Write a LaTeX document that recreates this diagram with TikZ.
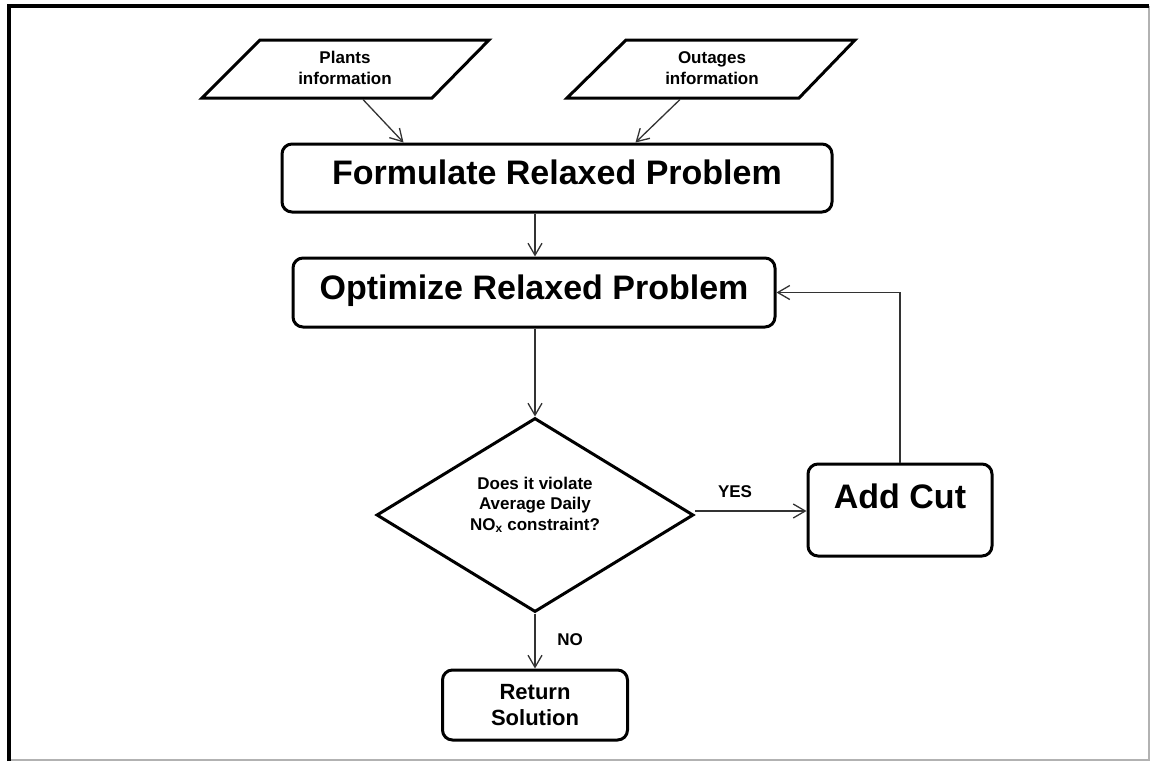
\documentclass[tikz,border=0pt]{standalone}
\usepackage{fontspec}
\setmainfont{Liberation Sans}
\usetikzlibrary{arrows.meta,shapes.geometric,calc}

\begin{document}
\begin{tikzpicture}[x=1pt,y=-1pt,
  stepbox/.style={draw=black, line width=3pt, rounded corners=10pt, inner sep=0pt, fill=white},
  bigtext/.style={font=\bfseries\fontsize{34}{40}\selectfont},
  iotext/.style={font=\bfseries\fontsize{17}{21}\selectfont, align=center, inner sep=0pt},
  lab/.style={font=\bfseries\fontsize{17}{20}\selectfont, inner sep=0pt},
  flow/.style={draw=black!80, line width=1.3pt,
    -{Straight Barb[length=12pt,width=14pt,line width=1.3pt]}},
  shapeline/.style={draw=black, line width=3pt, line join=miter},
]
\useasboundingbox (0,0) rectangle (1150,761);
\fill[white] (0,0) rectangle (1150,761);

% page frame: dark top and left edges, light right and bottom edges
\draw[gray!60, line width=1.5pt] (1149,6) -- (1149,760) -- (9,760);
\draw[black, line width=3.5pt] (9,761) -- (9,6) -- (1149,6);

% input data (parallelograms)
\draw[shapeline] (202,98) -- (260,40) -- (489,40) -- (432,98) -- cycle;
\node[iotext] (plants) at (345,68) {Plants\\information};
\draw[shapeline] (567,98) -- (626,40) -- (855,40) -- (799,98) -- cycle;
\node[iotext] (outages) at (712,68) {Outages\\information};
\coordinate (plantsout) at (363,99.5);
\coordinate (outagesout) at (680,99.5);

% process steps
\node[stepbox, bigtext, minimum width=550pt, minimum height=68pt,
      text height=24pt, text depth=11pt] (formulate) at (557,178)
      {Formulate Relaxed Problem};
\node[stepbox, bigtext, minimum width=482pt, minimum height=69pt,
      text height=24pt, text depth=11pt] (optimize) at (534,292.5)
      {Optimize Relaxed Problem};

% decision
\node[diamond, draw=black, line width=3pt, minimum width=317pt, minimum height=194pt,
      inner sep=0pt] (check) at (535,515) {};
\node[font=\bfseries\fontsize{17}{20.5}\selectfont, align=center, inner sep=0pt]
      (checktext) at (535,505) {Does it violate\\Average Daily\\NO\textsubscript{x} constraint?};

\node[stepbox, bigtext, minimum width=184pt, minimum height=92pt,
      text height=24pt, text depth=28pt] (addcut) at (900,510) {Add Cut};
\node[stepbox, font=\bfseries\fontsize{22}{26}\selectfont, align=center,
      minimum width=185pt, minimum height=70pt] (ret) at (535,705)
      {Return\\Solution};

% connectors
\draw[flow] (plantsout) -- ([xshift=123pt]formulate.north west);
\draw[flow] (outagesout) -- ([xshift=355pt]formulate.north west);
\draw[flow] (formulate.south -| check.north) -- (optimize.north -| check.north);
\draw[flow] (optimize.south -| check.north) -- (check.north);
\draw[flow] ([yshift=4pt]check.east) -- ([yshift=4pt]check.east -| addcut.west);
\draw[flow] (check.south) -- (ret.north);
\draw[flow] (addcut.north) -- (addcut.north |- optimize.east) -- (optimize.east);

% branch labels
\node[lab] (yes) at (735,492) {YES};
\node[lab] (no) at (570,640) {NO};
\end{tikzpicture}
\end{document}
